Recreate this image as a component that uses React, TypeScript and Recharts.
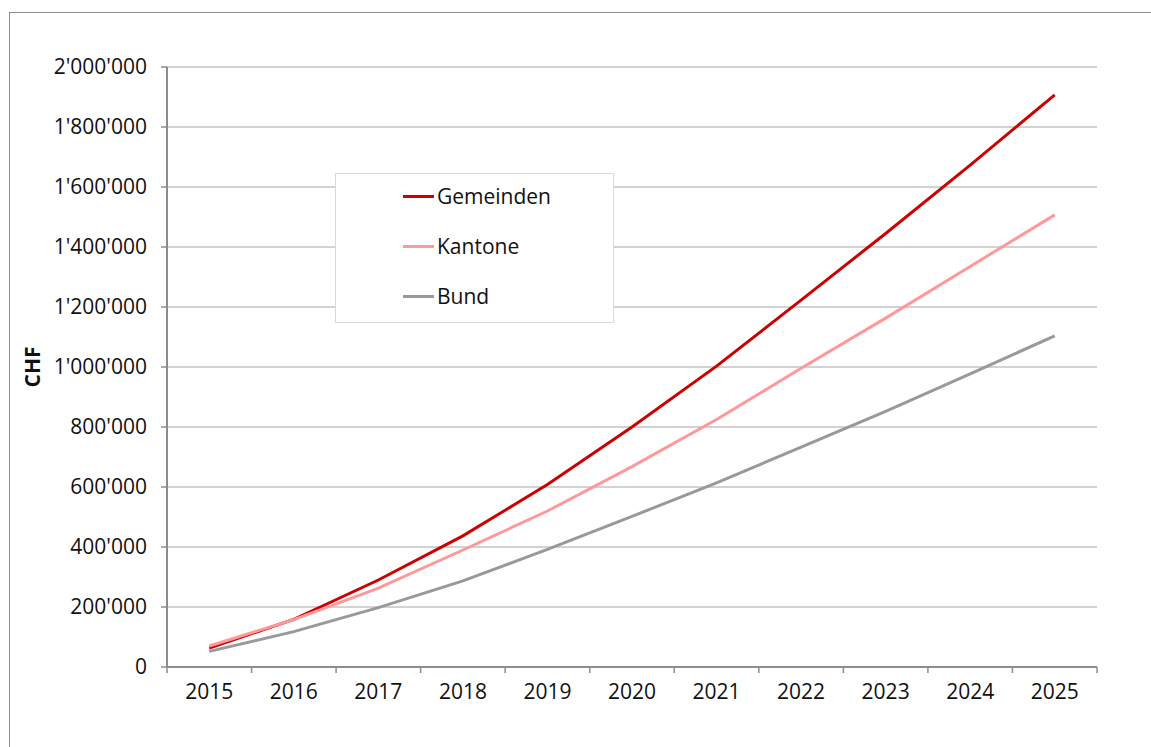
import { LineChart, Line, XAxis, YAxis, CartesianGrid, Legend } from "recharts";

const years = [2015, 2016, 2017, 2018, 2019, 2020, 2021, 2022, 2023, 2024, 2025];
const gemeinden = [63000, 159000, 290000, 437000, 608000, 800000, 1003000, 1223000, 1445000, 1673000, 1907000];
const kantone = [70000, 158000, 263000, 390000, 520000, 668000, 825000, 996000, 1163000, 1335000, 1507000];
const bund = [52000, 118000, 198000, 287000, 392000, 502000, 614000, 733000, 852000, 977000, 1104000];
const yTicks = [0, 200000, 400000, 600000, 800000, 1000000, 1200000, 1400000, 1600000, 1800000, 2000000];
const seriesOrder = ["Gemeinden", "Kantone", "Bund"];

const data = years.map((year, i) => ({
  year,
  Gemeinden: gemeinden[i],
  Kantone: kantone[i],
  Bund: bund[i],
}));

// year labels at centres, small tick marks between categories (Excel style)
const xTicks = [years[0] - 0.5, ...years.flatMap((y) => [y, y + 0.5])];

const FONT = "'Open Sans', 'DejaVu Sans', sans-serif";
const AXIS = "#8c8c8c";

const fmt = (v: number) => String(v).replace(/\B(?=(\d{3})+(?!\d))/g, "'");

function XTick(props: any) {
  const { x, y, payload } = props;
  const v = payload.value as number;
  if (Number.isInteger(v)) {
    return (
      <text x={x} y={y + 25} dy="0.355em" textAnchor="middle" fontSize={21} fill="#111" fontFamily={FONT}>
        {v}
      </text>
    );
  }
  return <line x1={x} x2={x} y1={y} y2={y + 6} stroke={AXIS} strokeWidth={1.5} />;
}

function ChfLabel(props: any) {
  const { viewBox } = props;
  const cx = viewBox.x + 33;
  const cy = viewBox.y + viewBox.height / 2;
  return (
    <text
      x={cx}
      y={cy}
      dy="0.355em"
      textAnchor="middle"
      fontSize={21}
      fontWeight="bold"
      fill="#111"
      fontFamily={FONT}
      transform={`rotate(-90 ${cx} ${cy})`}
    >
      CHF
    </text>
  );
}

function LegendBox(props: any) {
  const items = [...(props.payload || [])].sort(
    (a: any, b: any) => seriesOrder.indexOf(a.value) - seriesOrder.indexOf(b.value)
  );
  return (
    <div
      style={{
        width: "100%",
        height: "100%",
        boxSizing: "border-box",
        border: "1px solid #d9d9d9",
        background: "#fff",
        fontFamily: FONT,
        fontSize: 21,
        color: "#111",
        overflow: "hidden",
      }}
    >
      <div style={{ marginTop: -3 }}>
        {items.map((p: any) => (
          <div key={p.value} style={{ display: "flex", alignItems: "center", height: 50, paddingLeft: 67 }}>
            <span style={{ display: "inline-block", width: 31, height: 3, background: p.color, marginRight: 3 }} />
            <span>{p.value}</span>
          </div>
        ))}
      </div>
    </div>
  );
}

export default function App() {
  return (
    <div style={{ position: "absolute", left: 0, top: 0, width: 1151, height: 747, overflow: "hidden", background: "#fff" }}>
      <div
        style={{
          position: "absolute",
          left: 9,
          top: 12,
          width: 1142,
          height: 735,
          borderLeft: "1px solid #8c8c8c",
          borderTop: "1px solid #8c8c8c",
        }}
      />
      <div style={{ position: "absolute", left: 0, top: 0 }}>
        <LineChart width={1151} height={747} data={data} margin={{ top: 67, right: 54, left: 0, bottom: 30 }}>
          <CartesianGrid vertical={false} stroke="#a6a6a6" />
          <XAxis
            dataKey="year"
            type="number"
            domain={[years[0] - 0.5, years[years.length - 1] + 0.5]}
            ticks={xTicks}
            interval={0}
            tick={<XTick />}
            tickLine={false}
            tickSize={0}
            tickMargin={0}
            height={50}
            axisLine={{ stroke: AXIS, strokeWidth: 2 }}
          />
          <YAxis
            width={167}
            domain={[0, 2000000]}
            ticks={yTicks}
            interval={0}
            tickFormatter={fmt}
            tickSize={6}
            tickMargin={14}
            tick={{ fontSize: 21, fill: "#111", fontFamily: FONT }}
            tickLine={{ stroke: AXIS, strokeWidth: 1.5 }}
            axisLine={{ stroke: AXIS, strokeWidth: 2 }}
            label={<ChfLabel />}
          />
          <Legend
            layout="vertical"
            align="center"
            verticalAlign="middle"
            content={<LegendBox />}
            wrapperStyle={{ left: 335, top: 173, width: 279, height: 150 }}
          />
          <Line type="linear" dataKey="Gemeinden" stroke="#cc0000" strokeWidth={3} dot={false} isAnimationActive={false} />
          <Line type="linear" dataKey="Kantone" stroke="#ff9999" strokeWidth={3} dot={false} isAnimationActive={false} />
          <Line type="linear" dataKey="Bund" stroke="#999999" strokeWidth={3} dot={false} isAnimationActive={false} />
        </LineChart>
      </div>
    </div>
  );
}
